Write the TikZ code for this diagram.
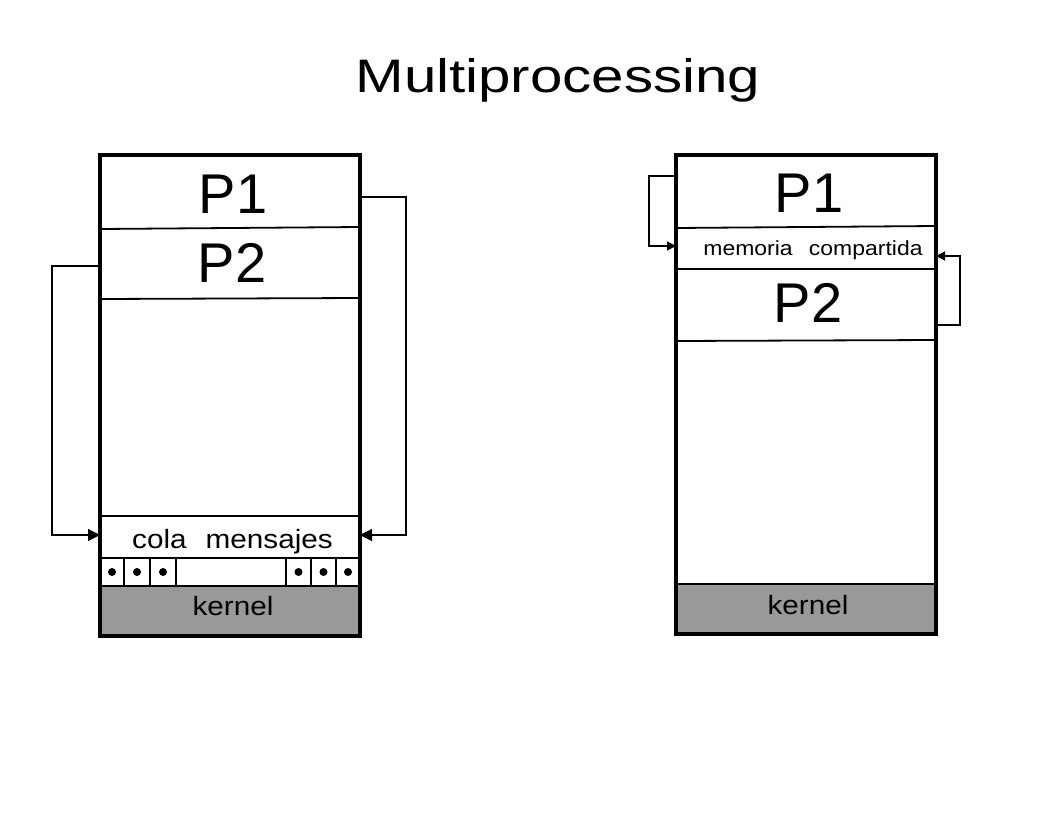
\documentclass[tikz,border=0pt]{standalone}
\usepackage{fontspec}
\setmainfont{Liberation Sans}
\usepackage{graphicx}
\usetikzlibrary{arrows.meta}
\definecolor{kgray}{RGB}{153,153,153}
\newcommand{\widetext}[2]{\scalebox{#1}[1]{#2}}
\tikzset{
  outerbox/.style={line width=3.5pt},
  divider/.style={line width=1.8pt},
  celldiv/.style={line width=1.3pt},
  link/.style={line width=1.3pt, -{Triangle[length=12pt,width=12pt]}},
  smalllink/.style={line width=1.2pt, -{Triangle[length=9pt,width=9pt]}},
  bigtext/.style={font=\fontsize{56}{60}\selectfont, anchor=base, inner sep=0pt},
  midtext/.style={font=\fontsize{26.5}{30}\selectfont, anchor=base, inner sep=0pt},
  smalltext/.style={font=\fontsize{20.5}{24}\selectfont, anchor=base, inner sep=0pt},
  titletext/.style={font=\fontsize{47}{52}\selectfont, anchor=base, inner sep=0pt},
  msgdot/.style={circle, fill=black, inner sep=0pt, minimum size=8pt}
}
\begin{document}
\begin{tikzpicture}[x=1pt,y=-1pt]
\useasboundingbox (0,0) rectangle (1056,816);
\fill[white] (0,0) rectangle (1056,816);

% title
\node[titletext] (title) at (558,92) {\widetext{1.24}{Multiprocessing}};

% ---------- left box ----------
\fill[kgray] (100,586) rectangle (360,636);
\draw[divider] (100,229) -- (360,227);
\draw[divider] (100,299) -- (360,298);
\draw[divider] (100,516) -- (360,516);
\draw[divider] (100,558) -- (360,558);
\draw[divider] (100,586) -- (360,586);
\draw[celldiv] (124,558) -- (124,586) (150,558) -- (150,586) (176,558) -- (176,586)
               (286,558) -- (286,586) (311,558) -- (311,586) (336,558) -- (336,586);
\node[msgdot] (d1) at (112,572) {};
\node[msgdot] (d2) at (137,572) {};
\node[msgdot] (d3) at (163,572) {};
\node[msgdot] (d4) at (298.5,572) {};
\node[msgdot] (d5) at (323.5,572) {};
\node[msgdot] (d6) at (348,572) {};
\draw[outerbox] (100,155) rectangle (360,636);

\node[bigtext] (LP1) at (233,213) {P1};
\node[bigtext] (LP2) at (232,282) {P2};
\node[midtext] (cola) at (232.5,548) {\widetext{1.12}{cola\hspace{17pt}mensajes}};
\node[midtext] (lkernel) at (233,615) {\widetext{1.12}{kernel}};

\coordinate (LP2w) at (100,266);
\coordinate (LP1e) at (360,197);
\coordinate (colaw) at (100,535);
\coordinate (colae) at (360,535);
\draw[link] (LP2w) -- (52,266) |- (colaw);
\draw[link] (LP1e) -- (406,197) |- (colae);

% ---------- right box ----------
\fill[kgray] (676,584) rectangle (936,634);
\draw[divider] (676,228) -- (936,226);
\draw[divider] (676,269) -- (936,269);
\draw[divider] (676,341) -- (936,340);
\draw[divider] (676,584) -- (936,584);
\draw[outerbox] (676,155) rectangle (936,634);

\node[bigtext] (RP1) at (809,212) {P1};
\node[smalltext] (mem) at (813,255) {\widetext{1.12}{memoria\hspace{14.5pt}compartida}};
\node[bigtext] (RP2) at (808,322) {P2};
\node[midtext] (rkernel) at (808,614) {\widetext{1.12}{kernel}};

\coordinate (RP1w) at (676,176);
\coordinate (memw) at (676,246);
\coordinate (RP2e) at (936,325);
\coordinate (meme) at (936,256);
\draw[smalllink] (RP1w) -- (649,176) |- (memw);
\draw[smalllink] (RP2e) -- (960,325) |- (meme);
\end{tikzpicture}
\end{document}
